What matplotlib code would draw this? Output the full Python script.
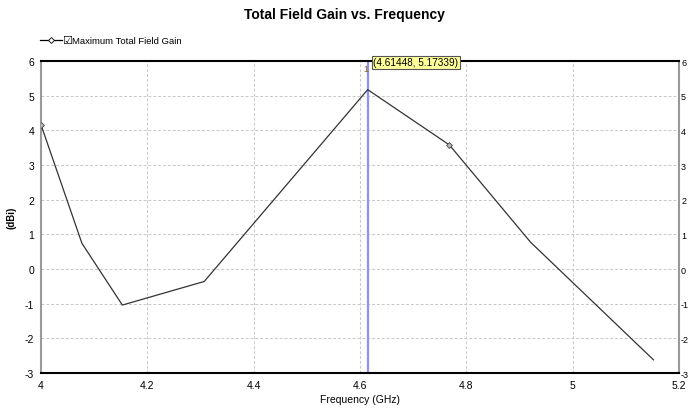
import matplotlib
matplotlib.use("Agg")
import matplotlib.pyplot as plt
from matplotlib.lines import Line2D

freq = [4.0, 4.077, 4.153, 4.307, 4.61448, 4.768, 4.921, 5.152]
gain = [4.16, 0.74, -1.04, -0.36, 5.17339, 3.58, 0.77, -2.62]
marker_idx = [0, 5]
marker_x = 4.61448
marker_y = 5.17339
xticks = [4.0, 4.2, 4.4, 4.6, 4.8, 5.0, 5.2]
xticklabels = ["4", "4.2", "4.4", "4.6", "4.8", "5", "5.2"]
yticks = [-3, -2, -1, 0, 1, 2, 3, 4, 5, 6]

FONT = ["Liberation Sans Narrow", "Liberation Sans", "DejaVu Sans"]
plt.rcParams["font.family"] = FONT
plt.rcParams["axes.unicode_minus"] = False

fig = plt.figure(figsize=(6.89, 4.14), dpi=100)
ax = fig.add_axes([41/689, 1-374/414, (679-41)/689, (374-62)/414])

ax.plot(freq, gain, color="#333333", lw=0.9, zorder=3)
ax.plot([freq[i] for i in marker_idx], [gain[i] for i in marker_idx],
        ls="none", marker="D", ms=3, mfc="#bbbbbb", mec="#444444", mew=0.6, zorder=4)

ax.axvline(marker_x, color="#8f8fff", lw=1.6, zorder=2)

ax.set_xlim(4.0, 5.2)
ax.set_ylim(-3, 6)
ax.set_xticks(xticks)
ax.set_xticklabels(xticklabels)
ax.set_yticks(yticks)
ax.grid(True, ls=(0, (3, 2)), color="#c8c8c8", lw=0.7)
ax.tick_params(length=0, labelsize=7.5, pad=5)
for s in ("top", "bottom"):
    ax.spines[s].set_color("black")
    ax.spines[s].set_linewidth(1.5)
for s in ("left", "right"):
    ax.spines[s].set_color("#999999")
    ax.spines[s].set_linewidth(1.5)

ax2 = ax.twinx()
ax2.set_ylim(-3, 6)
ax2.set_yticks(yticks)
ax2.tick_params(length=0, labelsize=6.5, pad=1.5)
for s in ax2.spines.values():
    s.set_visible(False)

ax.set_xlabel("Frequency (GHz)", fontsize=7.5, labelpad=3)
ax.set_ylabel("(dBi)", fontsize=7, fontweight="bold", labelpad=6)

fig.text(0.5, 1-15/414, "Total Field Gain vs. Frequency", ha="center", va="center",
         fontsize=10, fontweight="bold")

# legend
fig.add_artist(Line2D([40/689, 62/689], [1-41/414, 1-41/414], color="black", lw=0.9))
fig.add_artist(Line2D([51/689], [1-41/414], marker="D", ms=3, mfc="white", mec="black", mew=0.6))
fig.text(62/689, 1-41/414, "\u2611", fontsize=8, va="center", ha="left", family="DejaVu Sans")
fig.text(72/689, 1-41/414, "Maximum Total Field Gain", fontsize=6.8, va="center", ha="left")

# marker annotation
ax.text(marker_x - 0.004, 5.78, "1", fontsize=6.5, color="#886600", ha="center", va="center", zorder=7)
ax.text(marker_x + 0.0105, 5.97, "(4.61448, 5.17339)", fontsize=7.2, ha="left", va="center",
        bbox=dict(boxstyle="square,pad=0.15", fc="#ffff99", ec="#555555", lw=0.8), zorder=6)

fig.savefig("out.png", dpi=100)
